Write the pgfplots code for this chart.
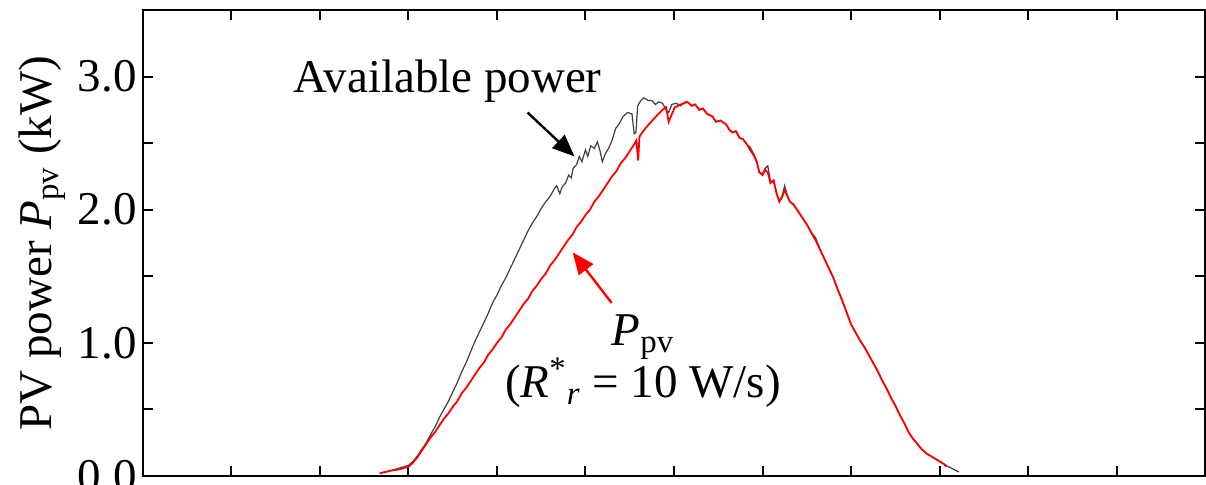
\documentclass[border=0pt]{standalone}
\usepackage{fontspec}
\setmainfont{Liberation Serif}
\usepackage{pgfplots}
\pgfplotsset{compat=1.18}
\usetikzlibrary{arrows.meta}

% available PV power (kW) against time of day (h)
\pgfplotstableread{
t p
5.35 0.02
5.60 0.04
5.80 0.06
6.00 0.08
6.10 0.11
6.20 0.15
6.30 0.20
6.40 0.25
6.50 0.31
6.60 0.37
6.70 0.44
6.80 0.50
6.90 0.56
7.00 0.63
7.10 0.70
7.20 0.78
7.30 0.85
7.40 0.93
7.50 1.01
7.60 1.08
7.70 1.15
7.80 1.22
7.90 1.30
8.00 1.36
8.10 1.43
8.20 1.49
8.30 1.56
8.40 1.63
8.50 1.70
8.60 1.77
8.70 1.84
8.80 1.90
8.90 1.95
9.00 2.01
9.10 2.06
9.20 2.10
9.30 2.16
9.35 2.18
9.42 2.12
9.47 2.17
9.55 2.20
9.62 2.26
9.68 2.24
9.72 2.31
9.80 2.34
9.86 2.40
9.92 2.36
10.00 2.45
10.05 2.40
10.12 2.48
10.20 2.46
10.27 2.51
10.33 2.44
10.38 2.36
10.45 2.42
10.52 2.46
10.60 2.52
10.68 2.61
10.75 2.64
10.85 2.70
10.95 2.73
11.05 2.72
11.10 2.57
11.14 2.58
11.18 2.78
11.25 2.82
11.32 2.84
11.42 2.82
11.50 2.82
11.58 2.79
11.65 2.81
11.74 2.80
11.82 2.75
11.88 2.73
11.95 2.79
12.05 2.80
12.15 2.78
12.25 2.81
12.30 2.81
12.40 2.78
12.48 2.79
12.57 2.75
12.65 2.76
12.75 2.72
12.87 2.70
12.95 2.66
13.05 2.67
13.18 2.64
13.25 2.60
13.32 2.58
13.40 2.59
13.48 2.54
13.56 2.53
13.65 2.49
13.72 2.47
13.80 2.42
13.87 2.36
13.93 2.28
14.00 2.27
14.06 2.31
14.12 2.33
14.18 2.21
14.25 2.22
14.32 2.12
14.38 2.06
14.45 2.11
14.50 2.18
14.55 2.12
14.62 2.06
14.70 2.04
14.80 1.99
14.90 1.94
15.00 1.89
15.10 1.83
15.20 1.79
15.30 1.70
15.40 1.63
15.50 1.56
15.60 1.49
15.70 1.40
15.80 1.32
15.90 1.23
16.00 1.14
16.10 1.08
16.20 1.02
16.30 0.97
16.40 0.91
16.50 0.85
16.60 0.79
16.70 0.72
16.80 0.66
16.90 0.59
17.00 0.53
17.10 0.46
17.20 0.40
17.30 0.33
17.40 0.28
17.50 0.24
17.60 0.20
17.70 0.17
17.80 0.15
17.90 0.13
18.00 0.11
18.10 0.09
18.20 0.07
18.44 0.03
}\availtbl

% PV output with ramp-rate limit R*r = 10 W/s
\pgfplotstableread{
t p
5.35 0.02
5.60 0.04
5.80 0.05
6.00 0.07
6.10 0.10
6.20 0.14
6.30 0.19
6.40 0.24
6.50 0.29
6.60 0.33
6.70 0.38
6.80 0.43
6.90 0.47
7.00 0.52
7.10 0.56
7.20 0.62
7.30 0.66
7.40 0.71
7.50 0.76
7.60 0.81
7.70 0.85
7.80 0.91
7.90 0.95
8.00 1.00
8.10 1.04
8.20 1.10
8.30 1.14
8.40 1.19
8.50 1.24
8.60 1.29
8.70 1.33
8.80 1.39
8.90 1.43
9.00 1.48
9.10 1.52
9.20 1.58
9.30 1.62
9.40 1.67
9.50 1.72
9.60 1.77
9.70 1.81
9.80 1.87
9.90 1.91
10.00 1.96
10.10 2.00
10.20 2.06
10.30 2.10
10.40 2.15
10.50 2.20
10.60 2.25
10.70 2.29
10.80 2.35
10.90 2.39
11.00 2.44
11.08 2.48
11.15 2.52
11.19 2.37
11.22 2.55
11.35 2.61
11.51 2.67
11.65 2.72
11.74 2.75
11.82 2.77
11.88 2.66
11.93 2.70
12.02 2.77
12.15 2.79
12.30 2.81
12.40 2.78
12.48 2.79
12.57 2.75
12.65 2.76
12.75 2.72
12.87 2.70
12.95 2.66
13.05 2.67
13.18 2.64
13.25 2.60
13.32 2.58
13.40 2.59
13.48 2.54
13.56 2.53
13.65 2.49
13.72 2.45
13.80 2.41
13.87 2.36
13.93 2.28
14.00 2.26
14.06 2.30
14.12 2.28
14.18 2.20
14.25 2.22
14.32 2.12
14.38 2.06
14.45 2.10
14.50 2.15
14.55 2.11
14.62 2.06
14.70 2.04
14.80 1.99
14.90 1.94
15.00 1.89
15.10 1.83
15.20 1.77
15.30 1.70
15.40 1.63
15.50 1.56
15.60 1.49
15.70 1.40
15.80 1.32
15.90 1.23
16.00 1.14
16.10 1.08
16.20 1.02
16.30 0.97
16.40 0.91
16.50 0.85
16.60 0.79
16.70 0.72
16.80 0.66
16.90 0.59
17.00 0.53
17.10 0.46
17.20 0.40
17.30 0.33
17.40 0.28
17.50 0.24
17.60 0.20
17.70 0.17
17.80 0.15
17.90 0.13
18.00 0.11
18.10 0.09
18.15 0.07
}\pvtbl

\begin{document}
\fontsize{23.5}{28}\selectfont
\begin{tikzpicture}
  \begin{axis}[
      name=ax,
      scale only axis,
      width=531pt, height=233pt,
      xmin=0, xmax=24,
      ymin=0, ymax=3.5,
      xtick={0,2,...,24},
      xticklabels={},
      ytick={0,1,2,3},
      minor ytick={0.5,1.5,2.5},
      tick align=inside,
      major tick length=5pt,
      minor tick length=5pt,
      tick style={line width=1pt, black},
      axis line style={line width=1pt},
      /pgf/number format/assume math mode=true,
      yticklabel style={/pgf/number format/fixed,
        /pgf/number format/fixed zerofill,
        /pgf/number format/precision=1,
        inner sep=3pt},
      ylabel={PV power \textit{P}\textsubscript{pv} (kW)},
      ylabel style={at={(axis description cs:-0.095,0.5)}, anchor=center},
      clip=false,
    ]

    \addplot[color=black!75, line width=0.6pt] table[x=t, y=p] {\availtbl};
    \addplot[color=red, line width=0.9pt] table[x=t, y=p] {\pvtbl};

    \node[anchor=base] at (axis cs:6.88,2.88) {Available power};
    \draw[line width=1.2pt, -{Triangle[length=11pt, width=9pt]}]
      (axis cs:8.69,2.73) -- (axis cs:9.75,2.40);

    \node[anchor=base] at (axis cs:11.30,0.98) {\textit{P}\textsubscript{pv}};
    \node[anchor=base] at (axis cs:11.30,0.59)
      {(\textit{R}\textsuperscript{*}\textsubscript{\textit{r}} = 10 W/s)};
    \draw[red, line width=1.2pt, -{Triangle[length=11pt, width=9pt]}]
      (axis cs:10.59,1.30) -- (axis cs:9.71,1.68);
  \end{axis}
  \pgfresetboundingbox
  \path ([shift={(-71.5pt,-4.5pt)}]ax.south west)
    rectangle ([shift={(0.5pt,5pt)}]ax.north east);
\end{tikzpicture}
\end{document}
